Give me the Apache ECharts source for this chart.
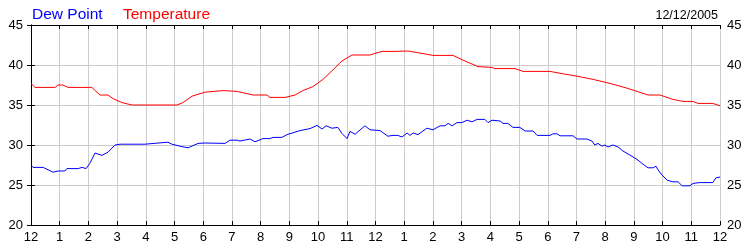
<!DOCTYPE html>
<html>
<head>
<meta charset="utf-8">
<script src="https://cdn.jsdelivr.net/npm/echarts@6/dist/echarts.min.js"></script>
<style>
html,body{margin:0;padding:0;background:#fff;}
#chart{width:750px;height:250px;}
</style>
</head>
<body>
<div id="chart"></div>
<script>
// Hour labels along the x axis (midnight to midnight)
const hourLabels = ['12','1','2','3','4','5','6','7','8','9','10','11','12','1','2','3','4','5','6','7','8','9','10','11','12'];
const yTicks = [20, 25, 30, 35, 40, 45];

// Temperature (hours since midnight, value)
const tempHours = [0,0.14,0.84,0.94,1.11,1.29,2.12,2.40,2.68,2.86,3.17,3.52,5.09,5.29,5.61,6.06,6.69,7.18,7.73,8.22,8.32,8.85,9.20,9.47,9.82,10.17,10.52,10.83,11.18,11.81,11.98,12.23,12.68,13.13,13.62,14.00,14.70,15.05,15.57,16.06,16.16,16.86,17.14,18.08,18.53,19.02,19.58,20.17,20.76,21.11,21.49,21.91,22.36,22.71,23.06,23.23,23.75,24.0];
const tempValues = [37.7,37.2,37.2,37.5,37.5,37.2,37.2,36.25,36.25,35.8,35.3,35.0,35.0,35.3,36.1,36.6,36.8,36.7,36.25,36.25,35.95,35.95,36.25,36.8,37.3,38.2,39.4,40.5,41.25,41.25,41.45,41.7,41.7,41.75,41.45,41.2,41.2,40.6,39.8,39.7,39.55,39.55,39.2,39.2,38.9,38.6,38.2,37.7,37.1,36.7,36.25,36.25,35.7,35.45,35.45,35.2,35.2,34.9];

// Dew point (hours since midnight, value)
const dewHours = [0,0.07,0.42,0.77,0.94,1.18,1.25,1.64,1.78,1.92,2.05,2.23,2.47,2.68,2.93,3.10,3.97,4.01,4.77,4.91,5.19,5.47,5.82,6.06,6.76,6.93,7.18,7.28,7.63,7.80,8.08,8.32,8.43,8.74,8.92,9.37,9.72,9.96,10.14,10.28,10.48,10.69,10.83,11.01,11.11,11.29,11.63,11.81,12.16,12.43,12.61,12.78,12.92,13.10,13.20,13.31,13.48,13.79,14.00,14.25,14.42,14.53,14.67,14.84,15.01,15.19,15.36,15.54,15.81,15.92,16.06,16.34,16.44,16.61,16.79,17.03,17.21,17.49,17.63,18.08,18.18,18.32,18.43,18.88,19.02,19.36,19.54,19.64,19.75,19.89,19.99,20.10,20.27,20.45,20.62,20.86,21.11,21.32,21.49,21.67,21.77,21.84,21.98,22.16,22.36,22.54,22.68,22.95,23.06,23.30,23.75,23.86,24.0];
const dewValues = [27.5,27.2,27.2,26.6,26.75,26.75,27.05,27.05,27.2,27.05,27.7,29.0,28.7,29.1,30.0,30.1,30.1,30.35,30.35,30.1,29.85,29.65,30.2,30.25,30.2,30.6,30.6,30.5,30.75,30.4,30.8,30.8,30.95,30.95,31.3,31.8,32.05,32.45,32.0,32.4,32.1,32.2,31.45,30.8,31.7,31.35,32.4,31.9,31.8,31.1,31.2,31.2,31.0,31.5,31.2,31.5,31.3,32.1,31.9,32.4,32.4,32.7,32.4,32.8,32.8,33.1,32.9,33.2,33.2,32.8,33.1,33.0,32.7,32.7,32.2,32.2,31.75,31.75,31.2,31.2,31.4,31.4,31.15,31.15,30.75,30.75,30.5,30.0,30.2,29.85,30.0,29.75,30.0,29.75,29.25,28.75,28.2,27.6,27.15,27.15,27.35,26.9,26.25,25.6,25.4,25.4,24.9,24.9,25.2,25.3,25.3,25.9,26.0];

const seriesNames = ['Dew Point', 'Temperature'];
const dateText = '12/12/2005';

const FONT = 'Arial, "Liberation Sans", sans-serif';
const pair = (xs, ys) => xs.map((h, i) => [h, ys[i]]);

const chart = echarts.init(document.getElementById('chart'), null, {renderer: 'canvas'});
const axisLine = {show: true, lineStyle: {color: '#000', width: 1}};
const yMin = yTicks[0], yMax = yTicks[yTicks.length - 1];

chart.setOption({
  animation: false,
  backgroundColor: '#fff',
  title: [
    {text: seriesNames[0], left: 27, top: 2, textStyle: {color: '#0000ff', fontSize: 15.5, fontWeight: 'normal', fontFamily: FONT}},
    {text: seriesNames[1], left: 118, top: 2, textStyle: {color: '#ff0000', fontSize: 15.5, fontWeight: 'normal', fontFamily: FONT}},
    {text: dateText, right: 27, top: 4, textStyle: {color: '#000', fontSize: 12.5, fontWeight: 'normal', fontFamily: FONT}}
  ],
  grid: {left: 31, right: 30, top: 25, bottom: 25, containLabel: false},
  xAxis: [
    {
      type: 'value', min: 0, max: 24, interval: 1, position: 'bottom',
      axisLine: axisLine,
      axisTick: {show: true, inside: true, length: 4, lineStyle: {color: '#000'}},
      axisLabel: {color: '#000', fontSize: 13, fontFamily: FONT, margin: 6,
        formatter: v => hourLabels[Math.round(v)]},
      splitLine: {show: true, lineStyle: {color: '#cccccc', width: 1}}
    },
    {
      type: 'value', min: 0, max: 24, interval: 1, position: 'top',
      axisLine: axisLine,
      axisTick: {show: true, inside: true, length: 4, lineStyle: {color: '#000'}},
      axisLabel: {show: false},
      splitLine: {show: false}
    }
  ],
  yAxis: [
    {
      type: 'value', min: yMin, max: yMax, interval: 5, position: 'left',
      axisLine: axisLine,
      axisTick: {show: true, inside: true, length: 4, lineStyle: {color: '#000'}},
      axisLabel: {color: '#000', fontSize: 13, fontFamily: FONT, margin: 8},
      splitLine: {show: true, lineStyle: {color: '#cccccc', width: 1}}
    },
    {
      type: 'value', min: yMin, max: yMax, interval: 5, position: 'right',
      axisLine: axisLine,
      axisTick: {show: true, inside: true, length: 4, lineStyle: {color: '#000'}},
      axisLabel: {color: '#000', fontSize: 13, fontFamily: FONT, margin: 7},
      splitLine: {show: false}
    }
  ],
  series: [
    {name: seriesNames[1], type: 'line', xAxisIndex: 0, yAxisIndex: 0, showSymbol: false, symbol: 'none',
     lineStyle: {color: '#ff0000', width: 1}, itemStyle: {color: '#ff0000'}, data: pair(tempHours, tempValues)},
    {name: seriesNames[0], type: 'line', xAxisIndex: 0, yAxisIndex: 0, showSymbol: false, symbol: 'none',
     lineStyle: {color: '#0000ff', width: 1}, itemStyle: {color: '#0000ff'}, data: pair(dewHours, dewValues)}
  ]
});
</script>
</body>
</html>
